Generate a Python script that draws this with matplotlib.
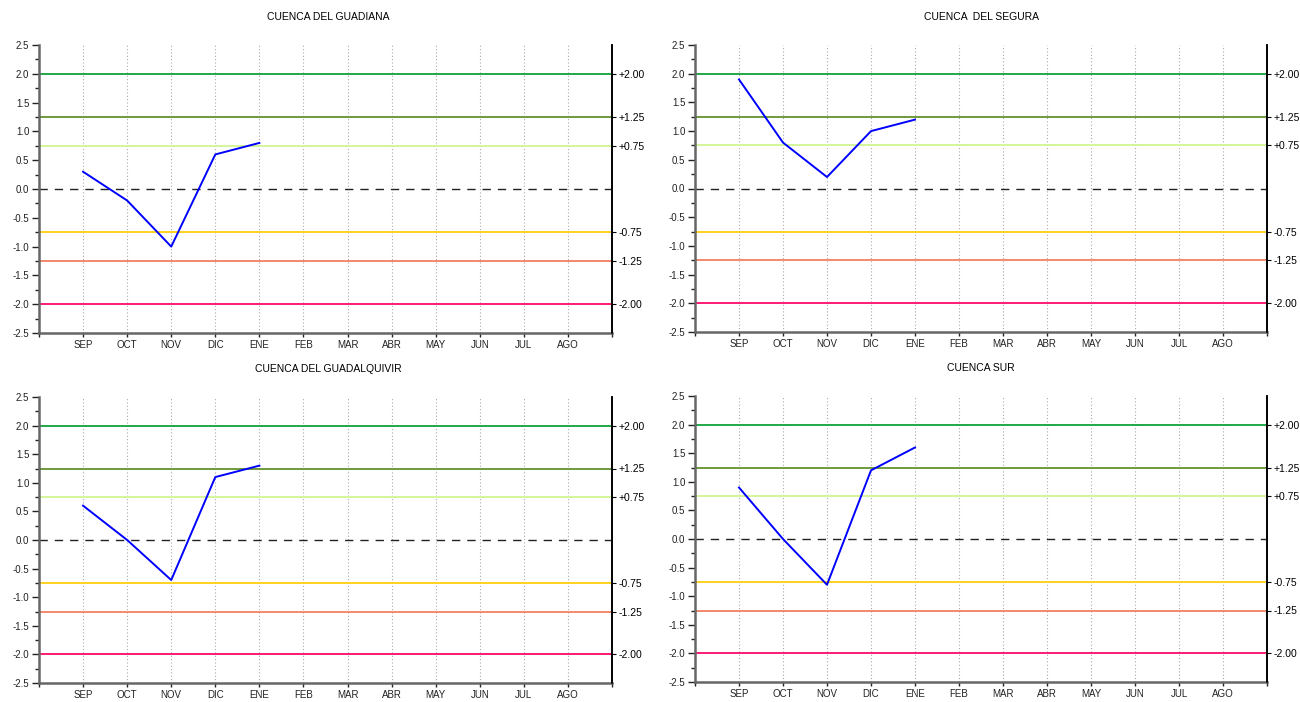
import matplotlib
matplotlib.use('Agg')
import matplotlib.pyplot as plt
import numpy as np
from matplotlib.ticker import MultipleLocator, FixedLocator

plt.rcParams['font.family'] = ['Liberation Sans', 'DejaVu Sans']
plt.rcParams['axes.unicode_minus'] = False

meses = ['SEP', 'OCT', 'NOV', 'DIC', 'ENE', 'FEB', 'MAR', 'ABR', 'MAY', 'JUN', 'JUL', 'AGO']

titulos = ['CUENCA DEL GUADIANA', 'CUENCA  DEL SEGURA',
           'CUENCA DEL GUADALQUIVIR', 'CUENCA SUR']

guadiana = [0.3, -0.2, -1.0, 0.6, 0.8]
segura = [1.9, 0.8, 0.2, 1.0, 1.2]
guadalquivir = [0.6, 0.0, -0.7, 1.1, 1.3]
sur = [0.9, 0.0, -0.8, 1.2, 1.6]
series = [guadiana, segura, guadalquivir, sur]

# umbrales del indice y sus colores
umbrales = [2.0, 1.25, 0.75, -0.75, -1.25, -2.0]
etiquetas_umbral = ['+2.00', '+1.25', '+0.75', '-0.75', '-1.25', '-2.00']
colores_umbral = ['#1fa84a', '#6e9a3c', '#d4f59a', '#ffd21f', '#f4876a', '#ff1a75']

fig = plt.figure(figsize=(13, 7.02), dpi=100)

# posiciones de los cuatro paneles (en pixeles del original)
cajas = [(39, 612, 45, 333), (695, 1267, 45, 332),
         (39, 612, 397, 683), (695, 1267, 396, 682)]

for i, (x0, x1, y0, y1) in enumerate(cajas):
    ax = fig.add_axes([x0 / 1300, 1 - y1 / 702, (x1 - x0) / 1300, (y1 - y0) / 702])
    ax.set_xlim(0, 13)
    ax.set_ylim(-2.5, 2.5)

    # rejilla vertical punteada
    for m in range(1, 13):
        ax.axvline(m, color='#aaaaaa', lw=0.8, ls=(0, (1, 2)), zorder=1)

    for u, c in zip(umbrales, colores_umbral):
        ax.axhline(u, color=c, lw=1.4, zorder=2)
    ax.axhline(0, color='#222222', lw=1.0, ls=(0, (6, 5)), zorder=2)

    x = np.arange(1, len(series[i]) + 1)
    ax.plot(x, series[i], color='#0000ff', lw=1.4, zorder=3)

    ax.spines['top'].set_visible(False)
    ax.spines['right'].set_color('black')
    ax.spines['right'].set_linewidth(1.2)
    ax.spines['left'].set_color('#666666')
    ax.spines['left'].set_linewidth(1.8)
    ax.spines['bottom'].set_color('#666666')
    ax.spines['bottom'].set_linewidth(1.8)

    ax.yaxis.set_major_locator(MultipleLocator(0.5))
    ax.yaxis.set_minor_locator(MultipleLocator(0.25))
    ax.yaxis.set_major_formatter(matplotlib.ticker.FormatStrFormatter('%.1f'))
    ax.tick_params(axis='y', which='major', length=5, width=1, labelsize=7, pad=2,
                   colors='#222222')
    ax.tick_params(axis='y', which='minor', length=3, width=1, colors='#222222')

    ax.set_xticks(range(0, 14))
    ax.set_xticklabels([''] + meses + [''])
    ax.tick_params(axis='x', length=3, width=1, labelsize=7, pad=2, colors='#222222')

    ax2 = ax.twinx()
    ax2.set_ylim(-2.5, 2.5)
    ax2.yaxis.set_major_locator(FixedLocator(umbrales))
    ax2.set_yticklabels(etiquetas_umbral)
    ax2.tick_params(axis='y', length=3, width=0.8, labelsize=7.5, pad=2)
    for s in ['top', 'left', 'bottom']:
        ax2.spines[s].set_visible(False)
    ax2.spines['right'].set_linewidth(1.2)

    ax.text(0.5 + (0.005 if i % 2 == 0 else 0), 1.0 + 28 / (y1 - y0), titulos[i],
            transform=ax.transAxes, ha='center', va='center', fontsize=7.5)

fig.savefig('out.png', dpi=100)
